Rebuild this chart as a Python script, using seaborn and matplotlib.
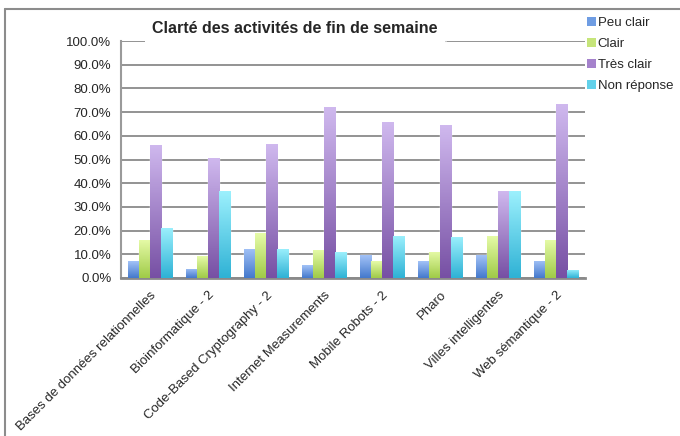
import numpy as np
import pandas as pd
import seaborn as sns
import matplotlib.pyplot as plt
from matplotlib.colors import LinearSegmentedColormap
from matplotlib.patches import Patch
from matplotlib.lines import Line2D

sns.set_style('white')
plt.rcParams['font.family'] = ['Liberation Sans', 'DejaVu Sans']

# données (en %)
categories = ['Bases de données relationnelles', 'Bioinformatique - 2',
              'Code-Based Cryptography - 2', 'Internet Measurements',
              'Mobile Robots - 2', 'Pharo', 'Villes intelligentes',
              'Web sémantique - 2']
peu_clair = [7.1, 4.0, 12.3, 5.3, 9.5, 7.0, 9.5, 7.3]
clair = [16.1, 9.1, 18.8, 12.0, 7.0, 11.1, 17.8, 16.2]
tres_clair = [56.2, 50.6, 56.5, 72.0, 65.8, 64.5, 36.7, 73.3]
non_reponse = [21.3, 36.7, 12.4, 10.8, 17.8, 17.4, 36.7, 3.5]
series = ['Peu clair', 'Clair', 'Très clair', 'Non réponse']

df = pd.DataFrame({
    'cours': categories * 4,
    'serie': [s for s in series for _ in categories],
    'valeur': [v / 100 for v in peu_clair + clair + tres_clair + non_reponse],
})

# dégradés (haut clair, bas foncé)
grads = [('#a2c2f7', '#4479cc'),
         ('#e6fba8', '#a0cb48'),
         ('#cfb8ee', '#7750a4'),
         ('#9cf0fd', '#2fb2d5')]
mids = ['#6f9de3', '#c6e57a', '#a582cc', '#62d1ea']

fig = plt.figure(figsize=(6.8, 4.36), dpi=100)
ax = fig.add_axes([121 / 680, 1 - 278 / 436, 464 / 680, 237 / 436])

sns.barplot(data=df, x='cours', y='valeur', hue='serie', hue_order=series,
            palette=mids, width=0.76, ax=ax, errorbar=None, zorder=2)
ax.get_legend().remove()

for cont, (top, bot) in zip(ax.containers, grads):
    cmap = LinearSegmentedColormap.from_list('g', [bot, top])
    for bar in cont:
        x0, y0 = bar.get_x(), bar.get_y()
        w, h = bar.get_width(), bar.get_height()
        img = ax.imshow(np.linspace(0, 1, 64).reshape(-1, 1), cmap=cmap,
                        origin='lower', aspect='auto', zorder=3,
                        extent=[x0, x0 + w, y0, y0 + h])
        img.set_clip_path(bar)

ax.set_xlim(-0.5, len(categories) - 0.5)
ax.set_ylim(0, 1)
ax.set_yticks(np.arange(0, 1.01, 0.1))
ax.set_yticklabels([f'{v * 100:.1f}%' for v in np.arange(0, 1.01, 0.1)],
                   fontsize=9.5)
ax.set_xticks(range(len(categories)))
ax.set_xticklabels(categories, rotation=45, ha='right', va='top',
                   rotation_mode='anchor', fontsize=9.5)
ax.tick_params(axis='both', length=0)
ax.tick_params(axis='y', pad=7)
ax.tick_params(axis='x', pad=8)
ax.set_xlabel('')
ax.set_ylabel('')

ax.yaxis.grid(True, color='#8a8a8a', linewidth=1.3, zorder=0)
ax.set_axisbelow(True)
for side in ['top', 'right']:
    ax.spines[side].set_visible(False)
ax.spines['left'].set_color('#9a9a9a')
ax.spines['left'].set_linewidth(1.5)
ax.spines['bottom'].set_color('#8a8a8a')
ax.spines['bottom'].set_linewidth(2)

# titre avec fond blanc
fig.text(295 / 680, 1 - 28 / 436, 'Clarté des activités de fin de semaine',
         ha='center', va='center', fontsize=11.5, fontweight='bold',
         bbox=dict(boxstyle='square', pad=0.45, facecolor='white',
                   edgecolor='none'))
fig.add_artist(Line2D([145 / 680, 446 / 680], [1 - 41 / 436, 1 - 41 / 436],
                      color='#cccccc', linewidth=0.8))

# légende
handles = [Patch(facecolor=c, edgecolor='none') for c in mids]
fig.legend(handles, series, loc='upper left',
           bbox_to_anchor=(587 / 680, 1 - 17 / 436), frameon=False,
           fontsize=9.5, handlelength=0.65, handleheight=0.65,
           handletextpad=0.15, labelspacing=0.68, borderpad=0,
           borderaxespad=0)

# cadre du graphique
fig.add_artist(Line2D([5 / 680, 1], [1 - 9 / 436, 1 - 9 / 436],
                      color='#8c8c8c', linewidth=1.5))
fig.add_artist(Line2D([5 / 680, 5 / 680], [0, 1 - 9 / 436],
                      color='#8c8c8c', linewidth=1.5))

fig.savefig('out.png', dpi=100)
